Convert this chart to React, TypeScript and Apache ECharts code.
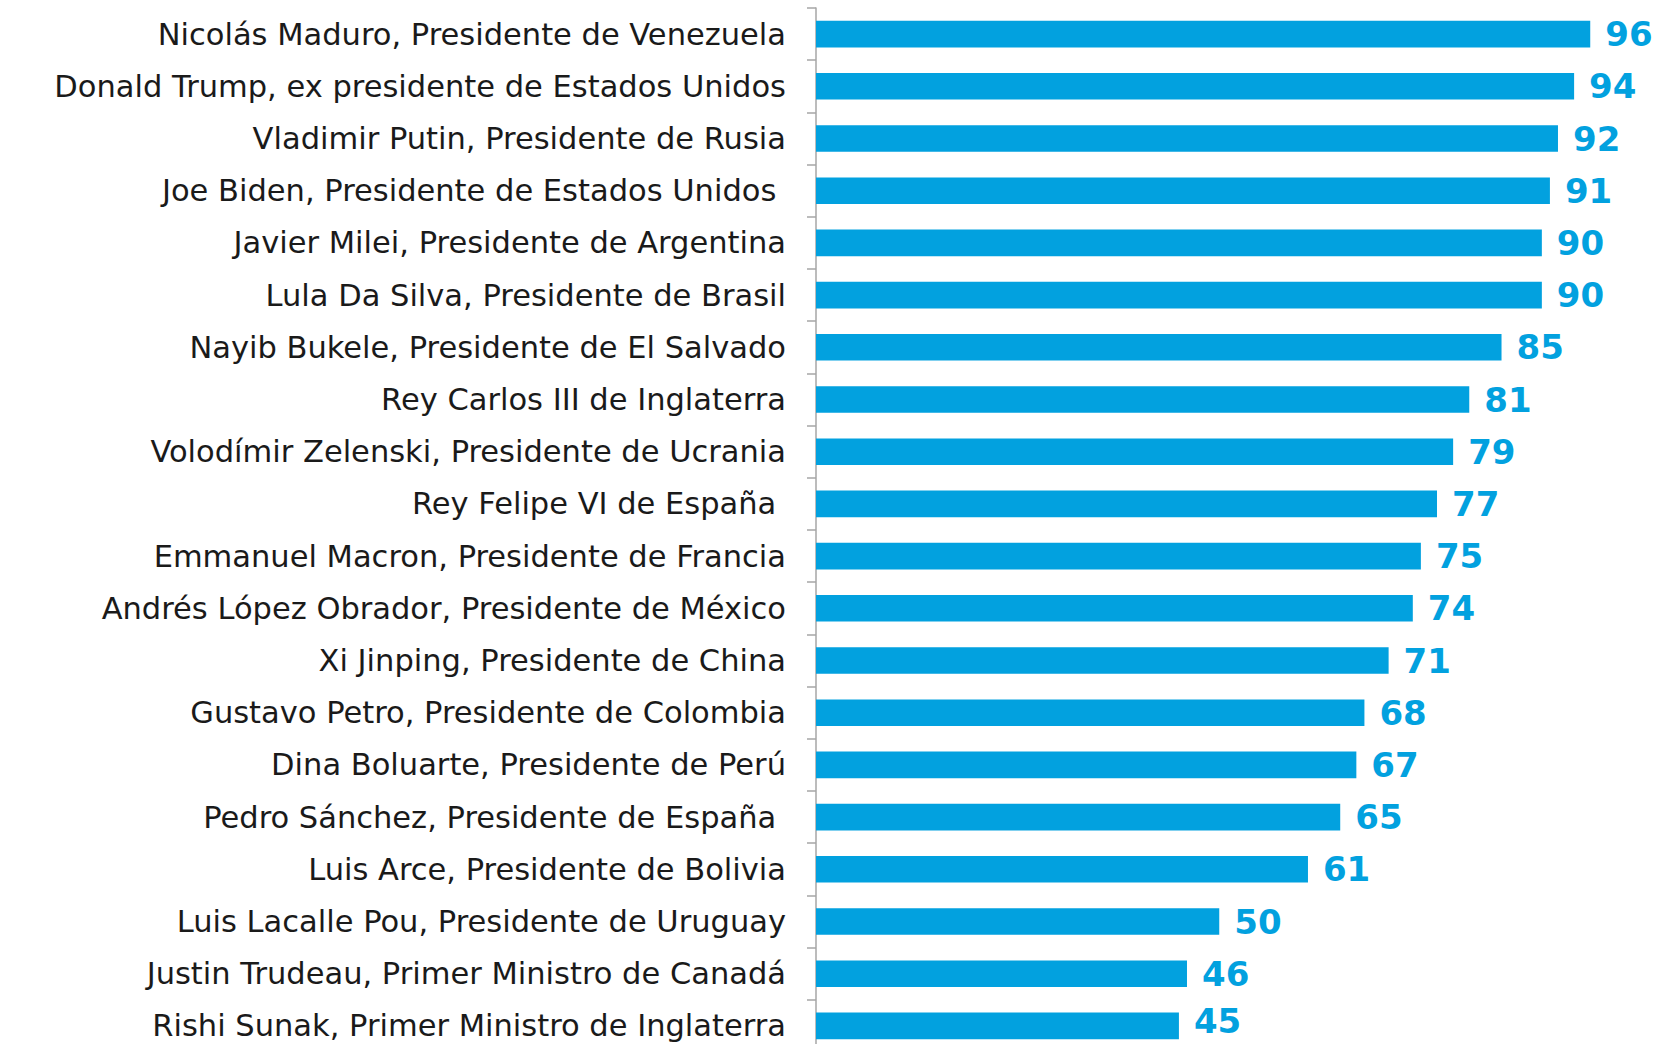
import React, { useEffect, useRef } from "react";
import * as echarts from "echarts";

const categories = [
  "Nicolás Maduro, Presidente de Venezuela",
  "Donald Trump, ex presidente de Estados Unidos",
  "Vladimir Putin, Presidente de Rusia",
  "Joe Biden, Presidente de Estados Unidos ",
  "Javier Milei, Presidente de Argentina",
  "Lula Da Silva, Presidente de Brasil",
  "Nayib Bukele, Presidente de El Salvado",
  "Rey Carlos III de Inglaterra",
  "Volodímir Zelenski, Presidente de Ucrania",
  "Rey Felipe VI de España ",
  "Emmanuel Macron, Presidente de Francia",
  "Andrés López Obrador, Presidente de México",
  "Xi Jinping, Presidente de China",
  "Gustavo Petro, Presidente de Colombia",
  "Dina Boluarte, Presidente de Perú",
  "Pedro Sánchez, Presidente de España ",
  "Luis Arce, Presidente de Bolivia",
  "Luis Lacalle Pou, Presidente de Uruguay",
  "Justin Trudeau, Primer Ministro de Canadá",
  "Rishi Sunak, Primer Ministro de Inglaterra",
];

const values = [96, 94, 92, 91, 90, 90, 85, 81, 79, 77, 75, 74, 71, 68, 67, 65, 61, 50, 46, 45];

const BLUE = "#02A1DF";

export default function App() {
  const ref = useRef<HTMLDivElement>(null);
  useEffect(() => {
    document.body.style.margin = "0";
    const chart = echarts.init(ref.current!, null, { renderer: "svg" });
    const seriesData = values.map((v, i) =>
      i === values.length - 1 ? { value: v, label: { offset: [0, -5] } } : v
    );
    chart.setOption({
      animation: false,
      backgroundColor: "#ffffff",
      grid: { left: 816, top: 8, width: 806.5, height: 1044, containLabel: false },
      xAxis: {
        type: "value",
        min: 0,
        max: 100,
        show: false,
      },
      yAxis: {
        type: "category",
        data: categories,
        inverse: true,
        axisLine: { show: true, lineStyle: { color: "#A6A6A6", width: 1.5 } },
        axisTick: { show: true, length: 9, lineStyle: { color: "#A6A6A6", width: 1.5 } },
        axisLabel: {
          margin: 30,
          color: "#1a1a1a",
          fontFamily: "DejaVu Sans",
          fontSize: 30.5,
        },
        splitLine: { show: false },
      },
      series: [
        {
          type: "bar",
          data: seriesData,
          barWidth: "51%",
          itemStyle: { color: BLUE },
          label: {
            show: true,
            position: "right",
            distance: 15,
            color: BLUE,
            fontFamily: "DejaVu Sans",
            fontWeight: "bold",
            fontSize: 34,
            lineHeight: 28,
          },
        },
      ],
    });
    return () => chart.dispose();
  }, []);
  return (
    <div style={{ width: 1668, height: 1044, overflow: "hidden", background: "#fff" }}>
      <div ref={ref} style={{ width: 1668, height: 1070 }} />
    </div>
  );
}
